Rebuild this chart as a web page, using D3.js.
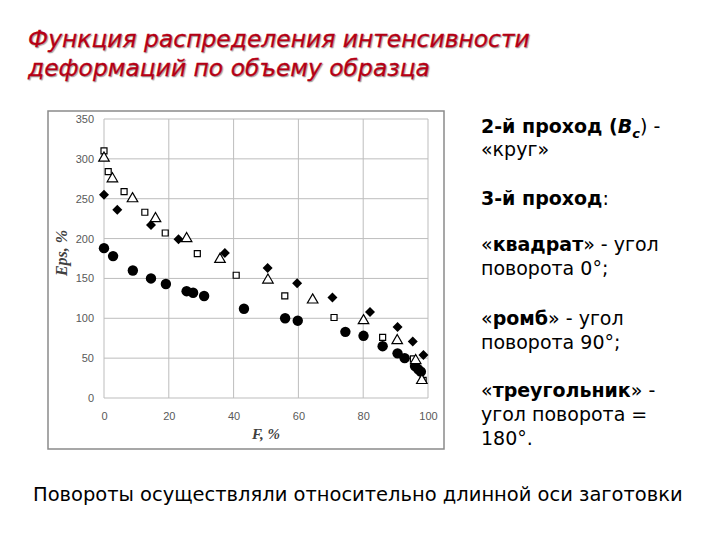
<!DOCTYPE html>
<html><head><meta charset="utf-8">
<script src="https://cdn.jsdelivr.net/npm/d3@7/dist/d3.min.js"></script>
<style>body{margin:0;background:#fff}svg{display:block}</style>
</head><body>
<svg id="c" width="720" height="540"></svg>
<script>
// ---- data ----
const xTicks = [0, 20, 40, 60, 80, 100];
const yTicks = [0, 50, 100, 150, 200, 250, 300, 350];

const circleF   = [0, 2.8, 8.9, 14.5, 19.1, 25.5, 27.5, 30.9, 43.2, 55.9, 59.8, 74.5, 80.1, 86, 90.6, 92.8, 96, 97, 97.8];
const circleEps = [188, 178, 160, 150, 143, 134, 132, 128, 112, 100, 97, 83, 78, 65, 56, 50, 40, 36, 33];

const squareF   = [0, 1.3, 6.2, 12.6, 18.9, 28.8, 40.8, 55.8, 71, 86, 95.5, 98.5];
const squareEps = [310, 284, 259, 233, 207, 181, 154, 128, 101, 76, 49, 22];

const diamondF   = [0, 4.1, 14.5, 23, 37.3, 50.5, 59.6, 70.5, 82.1, 90.6, 95.3, 98.6];
const diamondEps = [255, 236, 217, 199, 182, 163, 144, 126, 108, 89, 71, 54];

const triangleF   = [0, 2.6, 8.8, 15.9, 25.5, 35.8, 50.6, 64.4, 80.1, 90.5, 96.2, 98.1];
const triangleEps = [301, 275, 250, 225, 200, 174, 148, 123, 97, 72, 47, 22];

const titleLines = ["Функция распределения интенсивности", "деформаций по объему образца"];
const bottomNote = "Повороты осуществляли относительно длинной оси заготовки";

// ---- layout ----
const svg = d3.select("#c");
const x = d3.scaleLinear().domain([0, 100]).range([104, 428]);
const y = d3.scaleLinear().domain([0, 350]).range([398, 119]);

// chart frame
svg.append("rect").attr("x", 48).attr("y", 111).attr("width", 396).attr("height", 338)
  .attr("fill", "#fff").attr("stroke", "#8a8a8a").attr("stroke-width", 1.5);

// gridlines
const grid = svg.append("g");
grid.selectAll("line.h").data(yTicks).join("line")
  .attr("x1", x(0)).attr("x2", x(100)).attr("y1", d => y(d)).attr("y2", d => y(d))
  .attr("stroke", "#bdbdbd").attr("stroke-width", 1);
grid.selectAll("line.v").data(xTicks).join("line")
  .attr("y1", y(0)).attr("y2", y(350)).attr("x1", d => x(d)).attr("x2", d => x(d))
  .attr("stroke", "#bdbdbd").attr("stroke-width", 1);

// axes (labels only, using d3 axis)
const xAxis = svg.append("g").attr("transform", `translate(0,${y(0)})`)
  .call(d3.axisBottom(x).tickValues(xTicks).tickSize(0).tickPadding(14));
const yAxis = svg.append("g").attr("transform", `translate(${x(0)},0)`)
  .call(d3.axisLeft(y).tickValues(yTicks).tickSize(0).tickPadding(10));
[xAxis, yAxis].forEach(a => {
  a.select(".domain").remove();
  a.selectAll("text").attr("fill", "#595959").attr("font-family", "Liberation Sans, Arial, sans-serif").attr("font-size", 11);
});

// axis titles
svg.append("text").attr("transform", "translate(67,253) rotate(-90)")
  .attr("text-anchor", "middle").attr("font-family", "Liberation Serif, DejaVu Serif, serif")
  .attr("font-size", 16).attr("font-weight", "bold").attr("font-style", "italic").attr("fill", "#404040")
  .text("Eps, %");
svg.append("text").attr("x", 266).attr("y", 439)
  .attr("text-anchor", "middle").attr("font-family", "Liberation Serif, DejaVu Serif, serif")
  .attr("font-size", 15).attr("font-weight", "bold").attr("font-style", "italic").attr("fill", "#404040")
  .text("F, %");

// markers
const pts = (F, E) => F.map((f, i) => ({f, e: E[i]}));
const mk = svg.append("g");
mk.selectAll("circle.k").data(pts(circleF, circleEps)).join("circle")
  .attr("cx", d => x(d.f)).attr("cy", d => y(d.e)).attr("r", 5.2).attr("fill", "#000");
mk.selectAll("path.sq").data(pts(squareF, squareEps)).join("path")
  .attr("d", d3.symbol(d3.symbolSquare, 36))
  .attr("transform", d => `translate(${x(d.f)},${y(d.e)})`)
  .attr("fill", "#fff").attr("stroke", "#000").attr("stroke-width", 1.2);
mk.selectAll("path.dm").data(pts(diamondF, diamondEps)).join("path")
  .attr("d", d3.symbol(d3.symbolSquare, 50))
  .attr("transform", d => `translate(${x(d.f)},${y(d.e)}) rotate(45)`)
  .attr("fill", "#000");
mk.selectAll("path.tr").data(pts(triangleF, triangleEps)).join("path")
  .attr("d", d3.symbol(d3.symbolTriangle, 48))
  .attr("transform", d => `translate(${x(d.f)},${y(d.e)})`)
  .attr("fill", "#fff").attr("stroke", "#000").attr("stroke-width", 1.2);

// title
function fit(sel, target) {
  const w = sel.node().getComputedTextLength();
  const fs = parseFloat(sel.attr("font-size"));
  sel.attr("font-size", fs * target / w);
}
const t1 = svg.append("text").attr("x", 28).attr("y", 47)
  .attr("font-family", "DejaVu Sans, Verdana, sans-serif").attr("font-style", "italic")
  .attr("font-size", 22).attr("fill", "#bf0016").attr("stroke", "#bf0016").attr("stroke-width", 0.3)
  .style("text-shadow", "1px 1px 1px rgba(0,0,0,0.35)").text(titleLines[0]);
fit(t1, 502);
const t2 = svg.append("text").attr("x", 28).attr("y", 76)
  .attr("font-family", "DejaVu Sans, Verdana, sans-serif").attr("font-style", "italic")
  .attr("font-size", t1.attr("font-size")).attr("fill", "#bf0016").attr("stroke", "#bf0016").attr("stroke-width", 0.3)
  .style("text-shadow", "1px 1px 1px rgba(0,0,0,0.35)").text(titleLines[1]);

// right-side legend text
const legendLines = [
  {y: 133, parts: [["2-й проход (", "bold"], ["B", "bi"], ["c", "sub"], [") -", "normal"]]},
  {y: 156, parts: [["«круг»", "normal"]]},
  {y: 205, parts: [["3-й проход", "bold"], [":", "normal"]]},
  {y: 251, parts: [["«", "normal"], ["квадрат", "bold"], ["» - угол", "normal"]]},
  {y: 275, parts: [["поворота 0°;", "normal"]]},
  {y: 325, parts: [["«", "normal"], ["ромб", "bold"], ["» - угол", "normal"]]},
  {y: 349, parts: [["поворота 90°;", "normal"]]},
  {y: 397, parts: [["«", "normal"], ["треугольник", "bold"], ["» -", "normal"]]},
  {y: 421, parts: [["угол поворота =", "normal"]]},
  {y: 445, parts: [["180°.", "normal"]]}
];
const lg = svg.append("g").attr("font-family", "DejaVu Sans, Verdana, sans-serif").attr("font-size", 19).attr("fill", "#000");
legendLines.forEach(l => {
  const t = lg.append("text").attr("x", 481).attr("y", l.y);
  l.parts.forEach(([s, st]) => {
    const ts = t.append("tspan").text(s);
    if (st === "bold") ts.attr("font-weight", "bold");
    if (st === "bi") ts.attr("font-weight", "bold").attr("font-style", "italic");
    if (st === "sub") ts.attr("font-weight", "bold").attr("font-style", "italic").attr("font-size", 13).attr("dy", 5);
    if (st === "normal" && l.parts.some(p => p[1] === "sub")) ts.attr("dy", -5);
  });
});

// bottom note
const bn = svg.append("text").attr("x", 33).attr("y", 501)
  .attr("font-family", "DejaVu Sans, Verdana, sans-serif").attr("font-size", 17).attr("fill", "#000")
  .text(bottomNote);
fit(bn, 650);
</script>
</body></html>
